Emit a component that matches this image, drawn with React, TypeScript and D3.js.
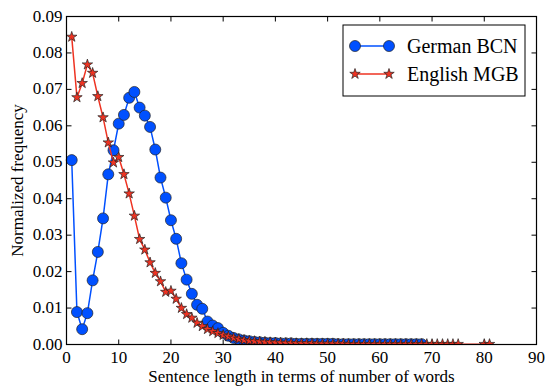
import React, { useEffect, useRef } from "react";
import * as d3 from "d3";

// sentence length (words) and normalized frequency
const germanLengths = [
  1, 2, 3, 4, 5, 6, 7, 8, 9, 10, 11, 12, 13, 14, 15, 16, 17, 18, 19, 20,
  21, 22, 23, 24, 25, 26, 27, 28, 29, 30, 31, 32, 33, 34, 35, 36, 37, 38, 39, 40,
  41, 42, 43, 44, 45, 46, 47, 48, 49, 50, 51, 52, 53, 54, 55, 56, 57, 58, 59, 60,
  61, 62, 63, 64, 65, 66, 67, 68,
];
const germanFreq = [
  0.0506, 0.0089, 0.0042, 0.0086, 0.0176, 0.0254, 0.0346, 0.0467, 0.0533, 0.0606,
  0.063, 0.0677, 0.0693, 0.065, 0.0628, 0.0597, 0.0535, 0.0458, 0.0403, 0.0341,
  0.029, 0.0223, 0.0178, 0.0139, 0.0109, 0.0098, 0.0063, 0.0052, 0.0045, 0.0032,
  0.0024, 0.0018, 0.0014, 0.0011, 0.0009, 0.0007, 0.0006, 0.0005, 0.0004, 0.0004,
  0.0003, 0.0003, 0.0003, 0.0002, 0.0002, 0.0002, 0.0002, 0.0002, 0.0002, 0.0002,
  0.0002, 0.0001, 0.0001, 0.0001, 0.0001, 0.0001, 0.0001, 0.0001, 0.0001, 0.0001,
  0.0001, 0.0001, 0.0001, 0.0001, 0.0001, 0.0001, 0.0001, 0.0001,
];

const englishLengths = [
  1, 2, 3, 4, 5, 6, 7, 8, 9, 10, 11, 12, 13, 14, 15, 16, 17, 18, 19, 20,
  21, 22, 23, 24, 25, 26, 27, 28, 29, 30, 31, 32, 33, 34, 35, 36, 37, 38, 39, 40,
  41, 42, 43, 44, 45, 46, 47, 48, 49, 50, 51, 52, 53, 54, 55, 56, 57, 58, 59, 60,
  61, 62, 63, 64, 65, 66, 67, 68, 69, 70, 71, 72, 73, 74, 75, 80, 81,
];
const englishFreq = [
  0.0844, 0.0678, 0.0717, 0.0768, 0.0745, 0.0681, 0.0623, 0.0554, 0.0499, 0.0514,
  0.0467, 0.0414, 0.0353, 0.0289, 0.026, 0.0225, 0.0196, 0.0173, 0.0144, 0.0147,
  0.0125, 0.01, 0.0083, 0.0073, 0.0059, 0.005, 0.0042, 0.0036, 0.0031, 0.0026,
  0.0022, 0.0018, 0.0015, 0.0012, 0.001, 0.0009, 0.0008, 0.0007, 0.0006, 0.0005,
  0.0005, 0.0004, 0.0004, 0.0003, 0.0003, 0.0003, 0.0003, 0.0002, 0.0002, 0.0002,
  0.0002, 0.0002, 0.0002, 0.0001, 0.0001, 0.0001, 0.0001, 0.0001, 0.0001, 0.0001,
  0.0001, 0.0001, 0.0001, 0.0001, 0.0001, 0.0001, 0.0001, 0.0001, 0.0001, 0.0001,
  0.0001, 0.0001, 0.0001, 0.0001, 0.0001, 0.0001, 0.0001,
];

const xTicks = [0, 10, 20, 30, 40, 50, 60, 70, 80, 90];
const yTicks = [0, 0.01, 0.02, 0.03, 0.04, 0.05, 0.06, 0.07, 0.08, 0.09];
const seriesNames = ["German BCN", "English MGB"];

const BLUE = "#0050ff";
const RED = "#ee3322";
const FONT = "Liberation Serif, Times New Roman, DejaVu Serif, serif";

const App = () => {
  const svgRef = useRef<SVGSVGElement>(null);

  useEffect(() => {
    const w = 547;
    const h = 387;
    const m = { top: 16.5, right: 10.5, bottom: 42.5, left: 66.5 };
    const iw = w - m.left - m.right;
    const ih = h - m.top - m.bottom;

    const svg = d3.select(svgRef.current).attr("width", w).attr("height", h).attr("font-family", FONT);
    svg.selectAll("*").remove();

    const x = d3.scaleLinear().domain([0, 90]).range([0, iw]);
    const y = d3.scaleLinear().domain([0, 0.09]).range([ih, 0]);

    const g = svg.append("g").attr("transform", `translate(${m.left},${m.top})`);

    const clip = svg.append("defs").append("clipPath").attr("id", "plotclip");
    clip.append("rect").attr("x", -8).attr("y", -8).attr("width", iw + 16).attr("height", ih + 8);

    //ticks inside on all four sides
    const tick = 5;
    xTicks.forEach((t) => {
      g.append("line").attr("x1", x(t)).attr("x2", x(t)).attr("y1", ih).attr("y2", ih - tick).attr("stroke", "#000");
      g.append("line").attr("x1", x(t)).attr("x2", x(t)).attr("y1", 0).attr("y2", tick).attr("stroke", "#000");
      g.append("text")
        .attr("x", x(t))
        .attr("y", ih + 18)
        .attr("text-anchor", "middle")
        .attr("font-size", 17)
        .text(t);
    });
    yTicks.forEach((t) => {
      g.append("line").attr("x1", 0).attr("x2", tick).attr("y1", y(t)).attr("y2", y(t)).attr("stroke", "#000");
      g.append("line").attr("x1", iw).attr("x2", iw - tick).attr("y1", y(t)).attr("y2", y(t)).attr("stroke", "#000");
      g.append("text")
        .attr("x", -4)
        .attr("y", y(t))
        .attr("dy", "0.3em")
        .attr("text-anchor", "end")
        .attr("font-size", 17)
        .text(d3.format(".2f")(t));
    });

    const plot = g.append("g").attr("clip-path", "url(#plotclip)");

    //German BCN
    const gData = germanLengths.map((d, i) => [d, germanFreq[i]] as [number, number]);
    const line = d3.line<[number, number]>().x((d) => x(d[0])).y((d) => y(d[1]));
    plot.append("path").attr("d", line(gData)).attr("fill", "none").attr("stroke", BLUE).attr("stroke-width", 1.5);
    plot.selectAll(".dot")
      .data(gData)
      .join("circle")
      .attr("cx", (d) => x(d[0]))
      .attr("cy", (d) => y(d[1]))
      .attr("r", 5.5)
      .attr("fill", BLUE)
      .attr("stroke", "#222")
      .attr("stroke-width", 0.7);

    //English MGB
    const eData = englishLengths.map((d, i) => [d, englishFreq[i]] as [number, number]);
    plot.append("path").attr("d", line(eData)).attr("fill", "none").attr("stroke", RED).attr("stroke-width", 1.5);
    const star = d3.symbol().type(d3.symbolStar).size(34);
    plot.selectAll(".star")
      .data(eData)
      .join("path")
      .attr("d", star)
      .attr("transform", (d) => `translate(${x(d[0])},${y(d[1])})`)
      .attr("fill", RED)
      .attr("stroke", "#222")
      .attr("stroke-width", 0.7);

    //frame
    g.append("rect").attr("width", iw).attr("height", ih).attr("fill", "none").attr("stroke", "#000").attr("stroke-width", 1.2);

    //axis labels
    svg.append("text")
      .attr("x", m.left + iw / 2)
      .attr("y", h - 5)
      .attr("text-anchor", "middle")
      .attr("font-size", 17)
      .text("Sentence length in terms of number of words");
    svg.append("text")
      .attr("transform", `translate(23,${m.top + ih / 2}) rotate(-90)`)
      .attr("text-anchor", "middle")
      .attr("font-size", 17)
      .text("Normalized frequency");

    //legend
    const lg = svg.append("g").attr("transform", "translate(343,25)");
    lg.append("rect").attr("width", 182).attr("height", 71).attr("fill", "#fff").attr("stroke", "#000").attr("stroke-width", 1);
    seriesNames.forEach((name, i) => {
      const yy = 21 + i * 28;
      const col = i === 0 ? BLUE : RED;
      lg.append("line").attr("x1", 12).attr("x2", 46).attr("y1", yy).attr("y2", yy).attr("stroke", col).attr("stroke-width", 1.5);
      [12, 46].forEach((xx) => {
        if (i === 0) {
          lg.append("circle").attr("cx", xx).attr("cy", yy).attr("r", 5.5).attr("fill", BLUE).attr("stroke", "#222").attr("stroke-width", 0.7);
        } else {
          lg.append("path").attr("d", star()).attr("transform", `translate(${xx},${yy})`).attr("fill", RED).attr("stroke", "#222").attr("stroke-width", 0.7);
        }
      });
      lg.append("text")
        .attr("x", 64)
        .attr("y", yy)
        .attr("dy", "0.33em")
        .attr("font-size", 20)
        .text(name);
    });
  }, []);

  return <svg ref={svgRef} style={{ position: "absolute", left: 0, top: 0 }}></svg>;
};

export default App;
